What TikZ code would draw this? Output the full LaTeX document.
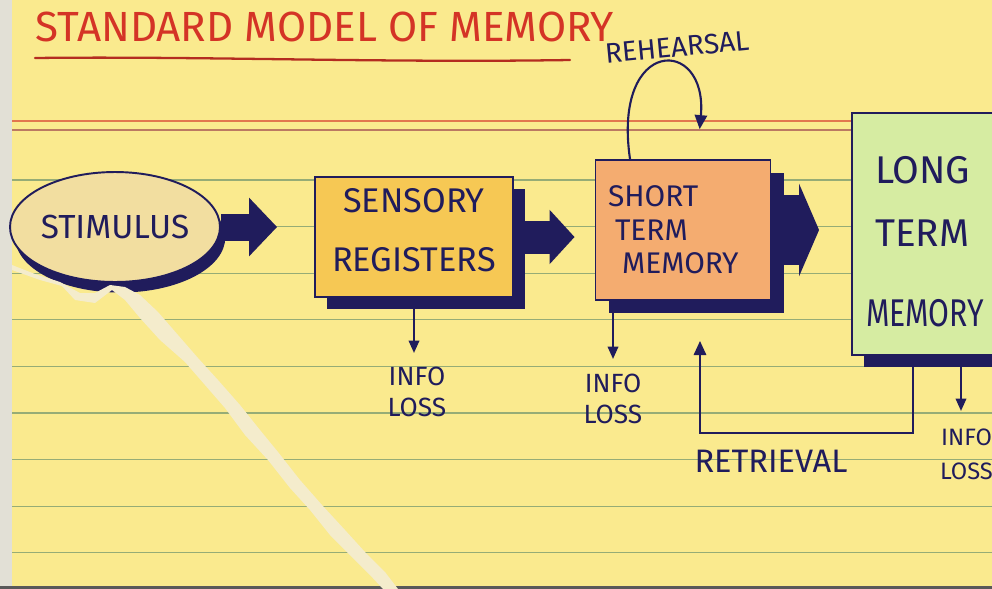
\documentclass[tikz,border=0pt]{standalone}
\usepackage{fontspec}
\setmainfont{Fira Sans}
\usetikzlibrary{positioning, arrows.meta, shapes.geometric, shadows}
\definecolor{card}{RGB}{250,234,142}
\definecolor{cardedge}{RGB}{226,224,214}
\definecolor{tearpaper}{RGB}{244,236,204}
\definecolor{rulegreen}{RGB}{150,172,118}
\definecolor{rulered}{RGB}{226,118,78}
\definecolor{ink}{RGB}{32,28,92}
\definecolor{titlered}{RGB}{212,52,38}
\definecolor{stimfill}{RGB}{242,222,160}
\definecolor{sensfill}{RGB}{246,200,84}
\definecolor{stmfill}{RGB}{244,172,112}
\definecolor{ltmfill}{RGB}{214,236,162}
\tikzset{
  % Card ruling
  ruleline/.style={draw=rulegreen, line width=0.7pt},
  marginline/.style={draw=rulered, line width=0.7pt},
  % Memory stores
  store/.style={
    draw=ink, line width=1.1pt, rectangle, text=ink, inner sep=2pt,
    drop shadow={shadow xshift=#1, shadow yshift=-#1, fill=ink, opacity=1}
  },
  store/.default=7pt,
  stimulusShape/.style={
    draw=ink, line width=1.1pt, ellipse, text=ink, inner sep=0pt,
    fill=stimfill, font=\fontsize{19}{22}\selectfont,
    drop shadow={shadow xshift=3pt, shadow yshift=-6pt, fill=ink, opacity=1}
  },
  % Flow arrows
  blockArrow/.style={draw=ink, line width=#1},
  thinArrow/.style={
    draw=ink, line width=1.2pt, -{Triangle[length=8pt, width=7pt]}
  },
  lossArrow/.style={
    draw=ink, line width=1pt, -{Triangle[length=7pt, width=6pt]}
  },
  % Labels
  lossLabel/.style={
    text=ink, align=center, inner sep=0pt,
    font=\fontsize{15}{17.6}\selectfont
  },
  penLabel/.style={text=ink, inner sep=0pt},
}

\begin{document}
\begin{tikzpicture}[x=0.02cm, y=-0.02cm]

  %% ── Card ──
  \useasboundingbox (0,0) rectangle (992,589);
  \clip (0,0) rectangle (992,589);
  \fill[cardedge] (0,0) rectangle (992,589);
  \fill[card] (12,0) rectangle (992,586);
  \fill[black!65] (0,586) rectangle (992,589);
  \draw[marginline] (12,121) -- (992,121);
  \draw[marginline, draw=rulered!60!gray] (12,130) -- (992,130);
  \foreach \k in {0,...,8}
    \draw[ruleline] (12,{180+46.6*\k}) -- (992,{180+46.6*\k});

  %% ── Title ──
  \node[anchor=west, text=titlered, inner sep=0pt,
        font=\fontsize{24}{28}\selectfont] (title) at (35,27) {STANDARD MODEL OF MEMORY};
  \draw[titlered!85!black, line width=1.3pt, line cap=round]
    (35,58) .. controls (200,56) and (380,63) .. (570,60);

  %% ── Stimulus ──
  \node[stimulusShape, minimum width=4.08cm, minimum height=2.2cm] (stimulus) at (115,227) {STIMULUS};

  %% ── Torn corner ──
  \fill[tearpaper]
    (12,270) -- (40,280) -- (62,286) -- (75,300) -- (95,303) -- (112,290)
    -- (125,300) -- (140,318) -- (160,340) -- (185,362) -- (205,385)
    -- (225,408) -- (245,435) -- (268,460) -- (290,488) -- (310,510)
    -- (330,535) -- (350,555) -- (370,575) -- (383,589)
    -- (398,589) -- (385,572) -- (365,552) -- (345,530) -- (322,505)
    -- (300,480) -- (278,452) -- (260,430) -- (240,405) -- (218,380)
    -- (198,358) -- (178,335) -- (158,312) -- (140,295) -- (125,287)
    -- (110,285) -- (95,293) -- (80,293) -- (60,282) -- (35,274) -- (12,265) -- cycle;

  %% ── Stores ──
  \node[store, fill=sensfill, minimum width=3.96cm, minimum height=2.4cm,
        align=center, font=\fontsize{19.5}{23}\selectfont] (sensory) at (414,237) {SENSORY\\[10.5pt]REGISTERS\rule[-8pt]{0pt}{8pt}};
  \node[store=7.5pt, fill=stmfill, minimum width=3.5cm, minimum height=2.8cm,
        align=left, text width=3cm, font=\fontsize{17}{19}\selectfont] (shortterm) at (683,230) {SHORT\\\hspace*{4pt}TERM\\\hspace*{8pt}MEMORY};
  \node[store, fill=ltmfill, minimum width=3.6cm, minimum height=4.84cm,
        align=left, text width=2.68cm, font=\fontsize{22}{26}\selectfont] (longterm) at (942,234) {\rule{0pt}{24pt}LONG\\[9.7pt]TERM\\[19.4pt]\hspace*{-5pt}\scalebox{0.78}[1]{MEMORY}};

  %% ── Block arrows ──
  \draw[blockArrow=0.54cm, -{Triangle[length=0.56cm, width=1.14cm]}, shorten >=0.74cm]
    (stimulus.east) -- (stimulus.east -| sensory.west);
  \draw[blockArrow=0.66cm, -{Triangle[length=0.5cm, width=1.06cm]}, shorten >=0.4cm]
    (sensory.east) -- (sensory.east -| shortterm.west);
  \draw[blockArrow=1.4cm, -{Triangle[length=0.4cm, width=1.84cm]}, shorten >=0.64cm]
    (shortterm.east) -- (shortterm.east -| longterm.west);

  %% ── Rehearsal loop ──
  \draw[thinArrow, shorten >=0.6cm]
    ([xshift=-1.06cm]shortterm.north) .. controls (612,36) and (708,36) .. ([xshift=0.28cm]shortterm.north);
  \node[penLabel, rotate=5.5, font=\fontsize{16}{18}\selectfont] (rehearsal) at (677,47) {REHEARSAL};

  %% ── Retrieval ──
  \draw[thinArrow, shorten >=0.8cm]
    ([xshift=-0.58cm]longterm.south) -- ++(0,77) -| ([xshift=0.34cm]shortterm.south);
  \node[penLabel, font=\fontsize{18.5}{21}\selectfont] (retrieval) at (771,461) {RETRIEVAL};

  %% ── Info loss ──
  \coordinate[below=1.1cm of sensory.south] (sensLoss);
  \draw[lossArrow] (sensory.south) -- (sensLoss);
  \node[lossLabel, below=0.28cm of sensLoss, xshift=0.06cm] (sensLossText) {INFO\\LOSS};

  \coordinate[below=1.16cm of shortterm.south, xshift=-1.4cm] (stmLoss);
  \draw[lossArrow] ([xshift=-1.4cm]shortterm.south) -- (stmLoss);
  \node[lossLabel, below=0.3cm of stmLoss] (stmLossText) {INFO\\LOSS};

  \coordinate[below=1.1cm of longterm.south, xshift=0.38cm] (ltmLoss);
  \draw[lossArrow] ([xshift=0.38cm]longterm.south) -- (ltmLoss);
  \node[lossLabel, below=0.36cm of ltmLoss, xshift=0.11cm,
        font=\fontsize{13.5}{19.3}\selectfont] (ltmLossText) {INFO\\LOSS};

\end{tikzpicture}
\end{document}
